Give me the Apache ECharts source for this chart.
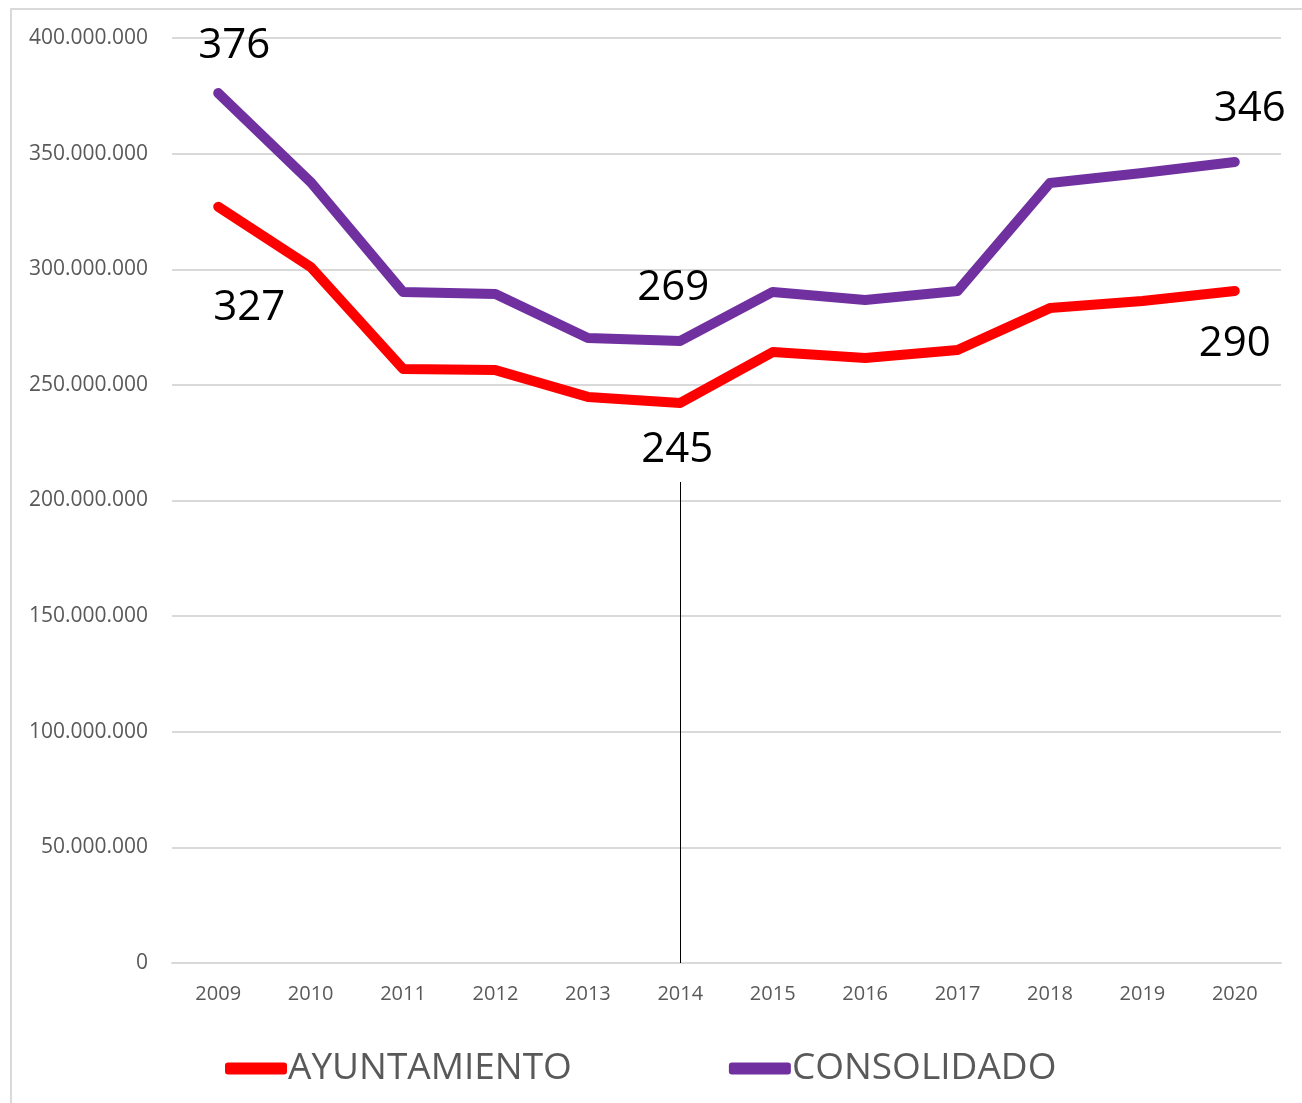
<!DOCTYPE html>
<html>
<head>
<meta charset="utf-8">
<script src="https://cdn.jsdelivr.net/npm/echarts@6/dist/echarts.min.js"></script>
<style>
  html, body { margin: 0; padding: 0; background: #fff; }
  #frame { position: absolute; left: 10px; top: 8px; width: 1310px; height: 1110px; border: 2px solid #d9d9d9; }
  #chart { position: absolute; left: 0; top: 0; width: 1302px; height: 1103px; }
</style>
</head>
<body>
<div id="frame"></div>
<div id="chart"></div>
<script>
var dom = document.getElementById("chart");
var myChart = echarts.init(dom);

var years = ['2009', '2010', '2011', '2012', '2013', '2014', '2015', '2016', '2017', '2018', '2019', '2020'];
// valores en euros
var ayuntamiento = [327e6, 301e6, 256.9e6, 256.4e6, 244.8e6, 242.2e6, 264.2e6, 261.6e6, 265.1e6, 283.2e6, 286.3e6, 290.6e6];
var consolidado = [376.2e6, 337.7e6, 290.2e6, 289.3e6, 270.3e6, 269e6, 290.2e6, 286.7e6, 290.6e6, 337.3e6, 341.6e6, 346.4e6];

// etiquetas que aparecen en el grafico (millones)
var labelsAyto = { 0: ['327', [31, 101]], 5: ['245', [-3, 47]], 11: ['290', [0, 53]] };
var labelsCons = { 0: ['376', [16, -47]], 5: ['269', [-7, -53]], 11: ['346', [15, -53]] };

function buildData(values, labels) {
    return values.map(function (v, i) {
        var item = { value: v };
        if (labels[i]) {
            item.label = {
                show: true,
                formatter: labels[i][0],
                position: 'inside',
                offset: labels[i][1]
            };
        }
        return item;
    });
}

function fmt(v) {
    return String(v).replace(/\B(?=(\d{3})+(?!\d))/g, '.');
}

var labelStyle = {
    show: false,
    color: '#000',
    fontSize: 42,
    fontFamily: 'Open Sans',
    align: 'center',
    verticalAlign: 'middle'
};

var option = {
    animation: false,
    textStyle: { fontFamily: 'Open Sans' },
    grid: { left: 172, right: 21, top: 38, bottom: 140 },
    legend: {
        left: 220,
        top: 1045,
        itemWidth: 62,
        itemHeight: 12,
        itemGap: 157,
        icon: 'roundRect',
        textStyle: { color: '#595959', fontSize: 37, fontFamily: 'Open Sans', padding: [0, 0, 0, -4] },
        data: ['AYUNTAMIENTO', 'CONSOLIDADO']
    },
    xAxis: {
        type: 'category',
        data: years,
        boundaryGap: true,
        axisLine: { show: true, lineStyle: { color: '#d9d9d9', width: 2 } },
        axisTick: { show: false },
        axisLabel: { color: '#595959', fontSize: 20, margin: 21 }
    },
    yAxis: {
        type: 'value',
        min: 0,
        max: 400000000,
        interval: 50000000,
        axisLine: { show: false },
        axisTick: { show: false },
        splitLine: { lineStyle: { color: '#d9d9d9', width: 2 } },
        axisLabel: { color: '#595959', fontSize: 21, margin: 24, formatter: fmt }
    },
    series: [
        {
            name: 'AYUNTAMIENTO',
            type: 'line',
            data: buildData(ayuntamiento, labelsAyto),
            symbol: 'circle',
            symbolSize: 1,
            itemStyle: { color: '#ff0000' },
            lineStyle: { color: '#ff0000', width: 10, cap: 'round', join: 'round' },
            label: labelStyle,
            z: 3,
            markLine: {
                silent: true,
                symbol: 'none',
                label: { show: false },
                lineStyle: { color: '#000', width: 1, type: 'solid' },
                data: [[{ coord: ['2014', 208000000] }, { coord: ['2014', 0] }]]
            }
        },
        {
            name: 'CONSOLIDADO',
            type: 'line',
            data: buildData(consolidado, labelsCons),
            symbol: 'circle',
            symbolSize: 1,
            itemStyle: { color: '#7030a0' },
            lineStyle: { color: '#7030a0', width: 10, cap: 'round', join: 'round' },
            label: labelStyle,
            z: 3
        }
    ]
};

if (option && typeof option === 'object') {
    myChart.setOption(option);
}
</script>
</body>
</html>
